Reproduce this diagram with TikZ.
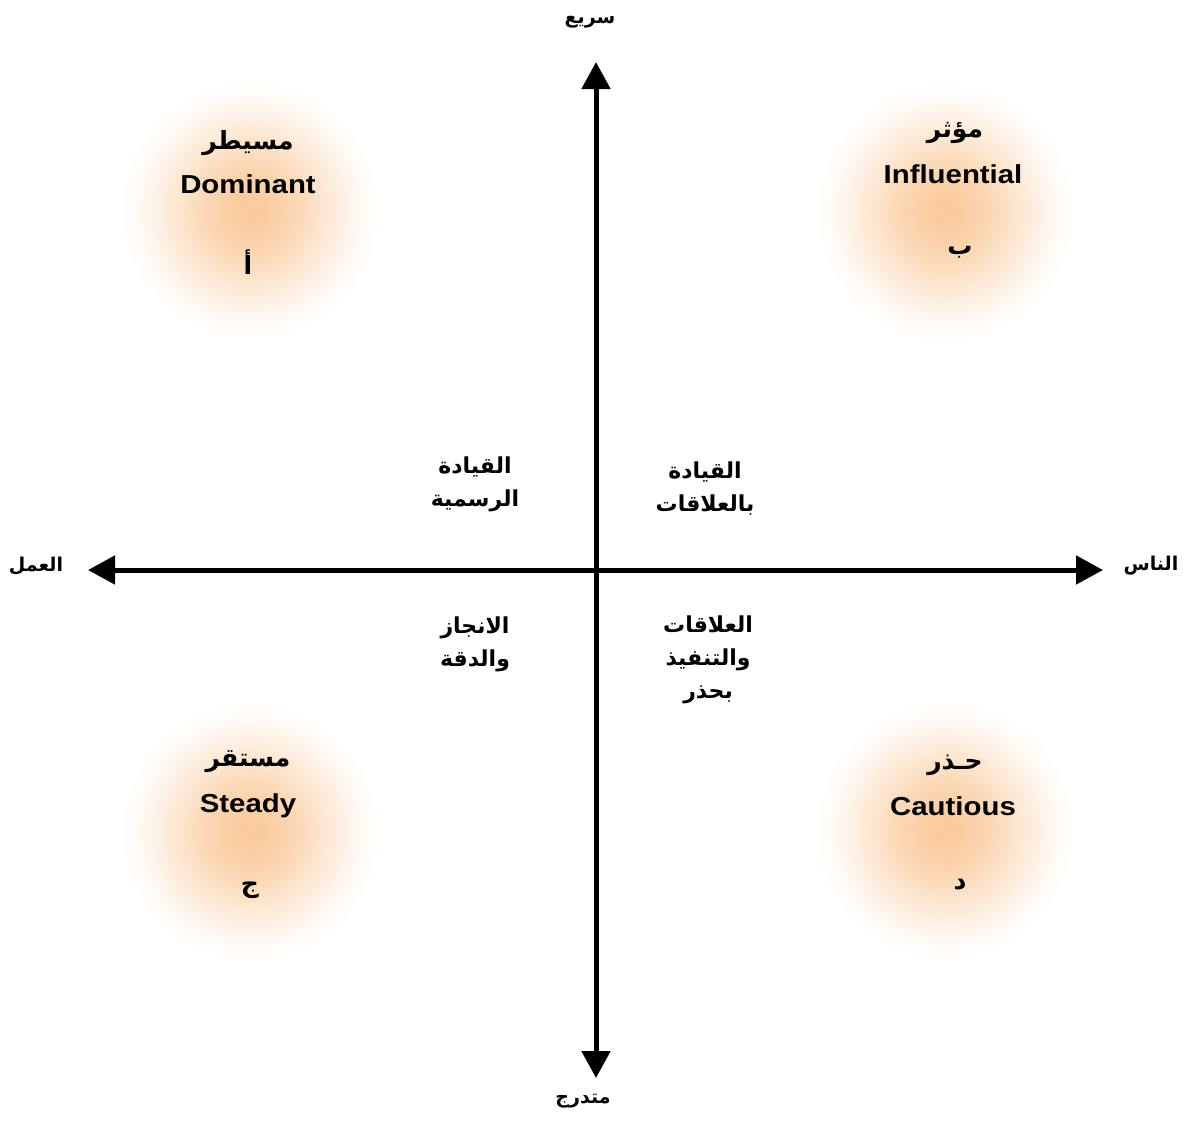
\documentclass[tikz,border=0pt]{standalone}
\usepackage{fontspec}
\setmainfont{Liberation Sans}
\newfontfamily\enfont[FakeStretch=1.13]{Liberation Sans}
\newfontfamily\arabicfont[Script=Arabic]{DejaVu Sans}
\TeXXeTstate=1
\usetikzlibrary{arrows.meta}
\definecolor{glowc}{RGB}{250,202,155}
\pgfdeclareradialshading{glow}{\pgfpoint{0bp}{0bp}}{color(0bp)=(glowc); color(4bp)=(glowc!92!white); color(9bp)=(glowc!72!white); color(13bp)=(glowc!50!white); color(17bp)=(glowc!28!white); color(20.5bp)=(glowc!11!white); color(24bp)=(white); color(50bp)=(white)}
\newcommand{\ar}[1]{\beginR #1\endR}
\begin{document}
\begin{tikzpicture}[x=1pt,y=-1pt,
  en/.style={font=\enfont\bfseries\fontsize{26}{30}\selectfont, inner sep=0pt},
  artitle/.style={font=\arabicfont\bfseries\fontsize{25}{30}\selectfont, inner sep=0pt},
  letter/.style={font=\arabicfont\bfseries\fontsize{25}{30}\selectfont, inner sep=0pt},
  quad/.style={font=\arabicfont\bfseries\fontsize{22}{33}\selectfont, align=center, inner sep=0pt},
  axlabel/.style={font=\arabicfont\bfseries\fontsize{19}{22}\selectfont, inner sep=0pt},
  axis/.style={line width=5pt, {Triangle[length=27pt,width=28pt]}-{Triangle[length=27pt,width=28pt]}},
  glowdisc/.style={shading=glow}
]
\useasboundingbox (0,0) rectangle (1193,1122);
% glows
\shade[glowdisc] (250,210) circle (135pt);
\shade[glowdisc] (945,212) circle (135pt);
\shade[glowdisc] (250,832) circle (135pt);
\shade[glowdisc] (945,830) circle (135pt);
% axes
\coordinate (L) at (88,570);
\coordinate (R) at (1103,570);
\coordinate (T) at (596,62);
\coordinate (B) at (596,1078);
\draw[axis] (L) -- (R);
\draw[axis] (T) -- (B);
% axis labels
\node[axlabel] (fast) at (590,22) {\ar{سريع}};
\node[axlabel] (grad) at (583,1101) {\ar{متدرج}};
\node[axlabel] (work) at (36,566) {\ar{العمل}};
\node[axlabel] (people) at (1151,566) {\ar{الناس}};
% quadrant types
\node[artitle] (domar) at (248,143) {\ar{مسيطر}};
\node[en] (dom) at (248,184) {Dominant};
\node[letter] (doml) at (248,262) {\ar{أ}};
\node[artitle] (infar) at (955,133) {\ar{مؤثر}};
\node[en] (inf) at (953,174) {Influential};
\node[letter] (infl) at (960,252) {\ar{ب}};
\node[artitle] (stear) at (248,762) {\ar{مستقر}};
\node[en] (ste) at (248,806) {Steady};
\node[letter] (stel) at (250,890) {\ar{ج}};
\node[artitle] (cauar) at (955,765) {\ar{حـذر}};
\node[en] (cau) at (953,806) {Cautious};
\node[letter] (caul) at (960,885) {\ar{د}};
% quadrant descriptions
\node[quad] (q1) at (475,484) {\ar{القيادة}\\\ar{الرسمية}};
\node[quad] (q2) at (705,489) {\ar{القيادة}\\\ar{بالعلاقات}};
\node[quad] (q3) at (475,644) {\ar{الانجاز}\\\ar{والدقة}};
\node[quad] (q4) at (708,660) {\ar{العلاقات}\\\ar{والتنفيذ}\\\ar{بحذر}};
\end{tikzpicture}
\end{document}
